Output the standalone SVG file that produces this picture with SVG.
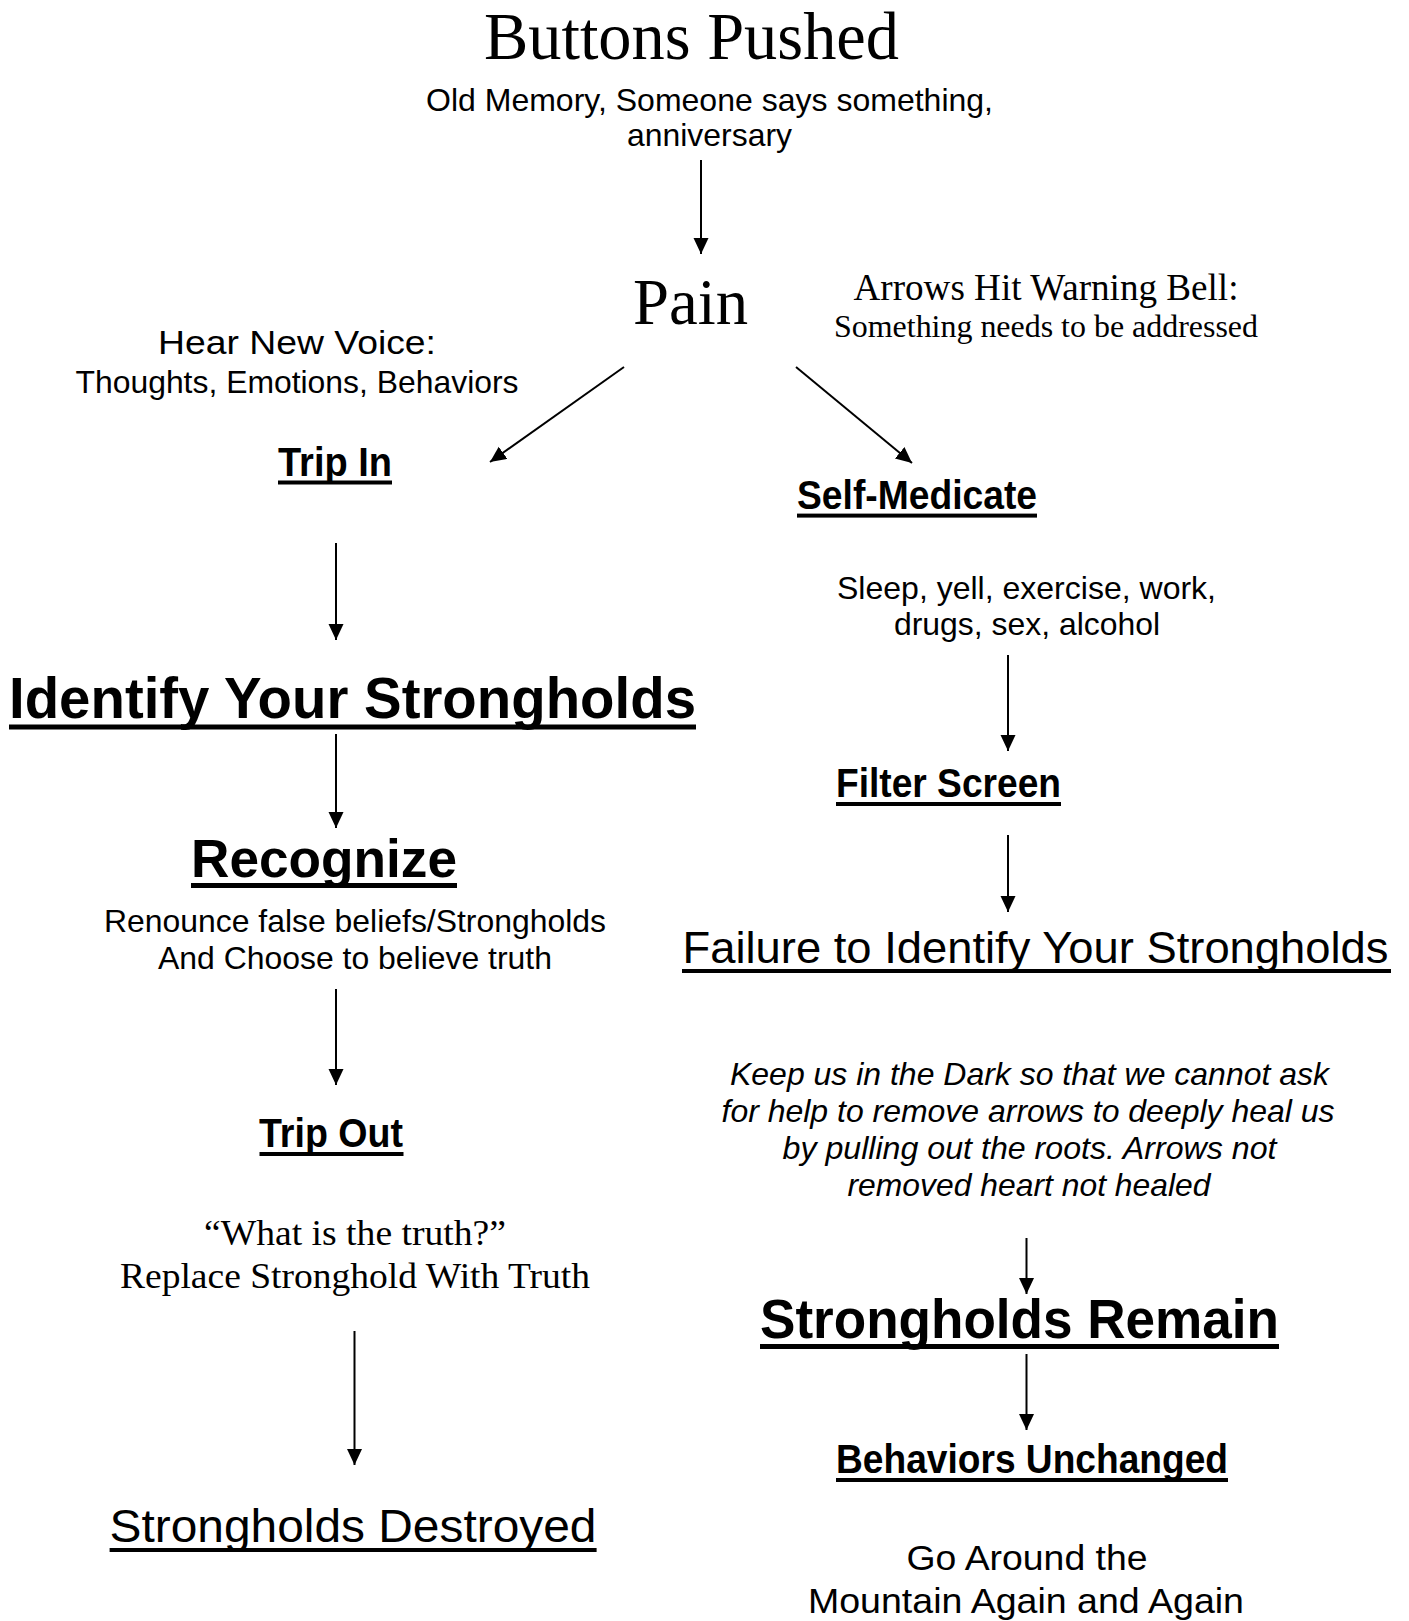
<svg xmlns="http://www.w3.org/2000/svg" width="1409" height="1621" viewBox="0 0 1409 1621">
<style>
text { fill:#000; text-anchor:middle; }
.serif { font-family:"Liberation Serif","Times New Roman",serif; }
.sans { font-family:"Liberation Sans",Arial,sans-serif; }
.b { font-weight:bold; }
.i { font-style:italic; }
.ul { fill:#000; }
.conn line { stroke:#000; stroke-width:2; fill:none; marker-end:url(#ah); }
</style>
<defs>
<marker id="ah" markerUnits="userSpaceOnUse" markerWidth="17" markerHeight="16" refX="16" refY="7.5" orient="auto">
<path d="M0,0 L16,7.5 L0,15 z" fill="#000"/>
</marker>
</defs>
<rect width="1409" height="1621" fill="#fff"/>

<g id="buttons-pushed">
<text class="serif" x="691.5" y="59" font-size="68" textLength="415" lengthAdjust="spacingAndGlyphs">Buttons Pushed</text>
<text class="sans" x="709.5" y="110.6" font-size="32" textLength="567" lengthAdjust="spacingAndGlyphs">Old Memory, Someone says something,</text>
<text class="sans" x="709.5" y="145.7" font-size="32" textLength="165" lengthAdjust="spacingAndGlyphs">anniversary</text>
</g>

<g id="pain">
<text class="serif" x="690.5" y="323.6" font-size="66" textLength="115" lengthAdjust="spacingAndGlyphs">Pain</text>
</g>

<g id="warning-bell">
<text class="serif" x="1046" y="300" font-size="37" textLength="385" lengthAdjust="spacingAndGlyphs">Arrows Hit Warning Bell:</text>
<text class="serif" x="1046" y="337" font-size="32" textLength="424" lengthAdjust="spacingAndGlyphs">Something needs to be addressed</text>
</g>

<g id="hear-new-voice">
<text class="sans" x="297" y="353.5" font-size="34" textLength="278" lengthAdjust="spacingAndGlyphs">Hear New Voice:</text>
<text class="sans" x="297" y="393" font-size="32" textLength="443" lengthAdjust="spacingAndGlyphs">Thoughts, Emotions, Behaviors</text>
</g>

<g id="trip-in">
<text class="sans b" x="335" y="475.5" font-size="40" textLength="114" lengthAdjust="spacingAndGlyphs">Trip In</text>
<rect class="ul" x="278" y="480.5" width="114" height="4"/>
</g>

<g id="self-medicate">
<text class="sans b" x="917" y="508.6" font-size="40" textLength="240" lengthAdjust="spacingAndGlyphs">Self-Medicate</text>
<rect class="ul" x="797" y="513.6" width="240" height="4"/>
</g>

<g id="self-medicate-list">
<text class="sans" x="1026.5" y="598.5" font-size="32" textLength="379" lengthAdjust="spacingAndGlyphs">Sleep, yell, exercise, work,</text>
<text class="sans" x="1027" y="635" font-size="32" textLength="266" lengthAdjust="spacingAndGlyphs">drugs, sex, alcohol</text>
</g>

<g id="identify-strongholds">
<text class="sans b" x="352.5" y="718" font-size="58" textLength="687" lengthAdjust="spacingAndGlyphs">Identify Your Strongholds</text>
<rect class="ul" x="9" y="724.5" width="687" height="5"/>
</g>

<g id="filter-screen">
<text class="sans b" x="948.5" y="797" font-size="40" textLength="225" lengthAdjust="spacingAndGlyphs">Filter Screen</text>
<rect class="ul" x="836" y="802" width="225" height="4"/>
</g>

<g id="recognize">
<text class="sans b" x="324" y="876.6" font-size="54" textLength="266" lengthAdjust="spacingAndGlyphs">Recognize</text>
<rect class="ul" x="191" y="883" width="266" height="5"/>
</g>

<g id="renounce">
<text class="sans" x="355" y="932" font-size="32" textLength="502" lengthAdjust="spacingAndGlyphs">Renounce false beliefs/Strongholds</text>
<text class="sans" x="355" y="968.6" font-size="32" textLength="394" lengthAdjust="spacingAndGlyphs">And Choose to believe truth</text>
</g>

<g id="failure-identify">
<text class="sans" x="1035.5" y="963.4" font-size="45" textLength="706" lengthAdjust="spacingAndGlyphs">Failure to Identify Your Strongholds</text>
<rect class="ul" x="682" y="969" width="709" height="4"/>
</g>

<g id="keep-in-dark">
<text class="sans i" x="1029.5" y="1085" font-size="32" textLength="599" lengthAdjust="spacingAndGlyphs">Keep us in the Dark so that we cannot ask</text>
<text class="sans i" x="1028" y="1122" font-size="32" textLength="613" lengthAdjust="spacingAndGlyphs">for help to remove arrows to deeply heal us</text>
<text class="sans i" x="1029.5" y="1159" font-size="32" textLength="494" lengthAdjust="spacingAndGlyphs">by pulling out the roots. Arrows not</text>
<text class="sans i" x="1029" y="1196" font-size="32" textLength="363" lengthAdjust="spacingAndGlyphs">removed heart not healed</text>
</g>

<g id="trip-out">
<text class="sans b" x="331" y="1147" font-size="40" textLength="144" lengthAdjust="spacingAndGlyphs">Trip Out</text>
<rect class="ul" x="259.5" y="1152" width="144" height="4"/>
</g>

<g id="what-is-truth">
<text class="serif" x="355" y="1244.5" font-size="35" textLength="302" lengthAdjust="spacingAndGlyphs">“What is the truth?”</text>
<text class="serif" x="355" y="1288" font-size="35" textLength="470" lengthAdjust="spacingAndGlyphs">Replace Stronghold With Truth</text>
</g>

<g id="strongholds-remain">
<text class="sans b" x="1019.5" y="1337.6" font-size="56" textLength="519" lengthAdjust="spacingAndGlyphs">Strongholds Remain</text>
<rect class="ul" x="760" y="1344" width="519" height="5"/>
</g>

<g id="behaviors-unchanged">
<text class="sans b" x="1032" y="1473" font-size="40" textLength="392" lengthAdjust="spacingAndGlyphs">Behaviors Unchanged</text>
<rect class="ul" x="836" y="1478" width="392" height="4"/>
</g>

<g id="strongholds-destroyed">
<text class="sans" x="353" y="1542" font-size="47" textLength="487" lengthAdjust="spacingAndGlyphs">Strongholds Destroyed</text>
<rect class="ul" x="109.6" y="1548" width="487" height="4"/>
</g>

<g id="go-around">
<text class="sans" x="1027" y="1570" font-size="35" textLength="241" lengthAdjust="spacingAndGlyphs">Go Around the</text>
<text class="sans" x="1026" y="1613" font-size="35" textLength="436" lengthAdjust="spacingAndGlyphs">Mountain Again and Again</text>
</g>

<g id="connectors" class="conn">
<line x1="701" y1="160" x2="701" y2="254"/>
<line x1="624" y1="367" x2="490" y2="462"/>
<line x1="796" y1="367" x2="912" y2="463"/>
<line x1="336" y1="543" x2="336" y2="640"/>
<line x1="1008" y1="655" x2="1008" y2="751"/>
<line x1="336" y1="734" x2="336" y2="828"/>
<line x1="1008" y1="835" x2="1008" y2="912"/>
<line x1="336" y1="989" x2="336" y2="1085"/>
<line x1="1026.5" y1="1238" x2="1026.5" y2="1294"/>
<line x1="354.5" y1="1331" x2="354.5" y2="1465"/>
<line x1="1026.5" y1="1354" x2="1026.5" y2="1430"/>
</g>
</svg>
